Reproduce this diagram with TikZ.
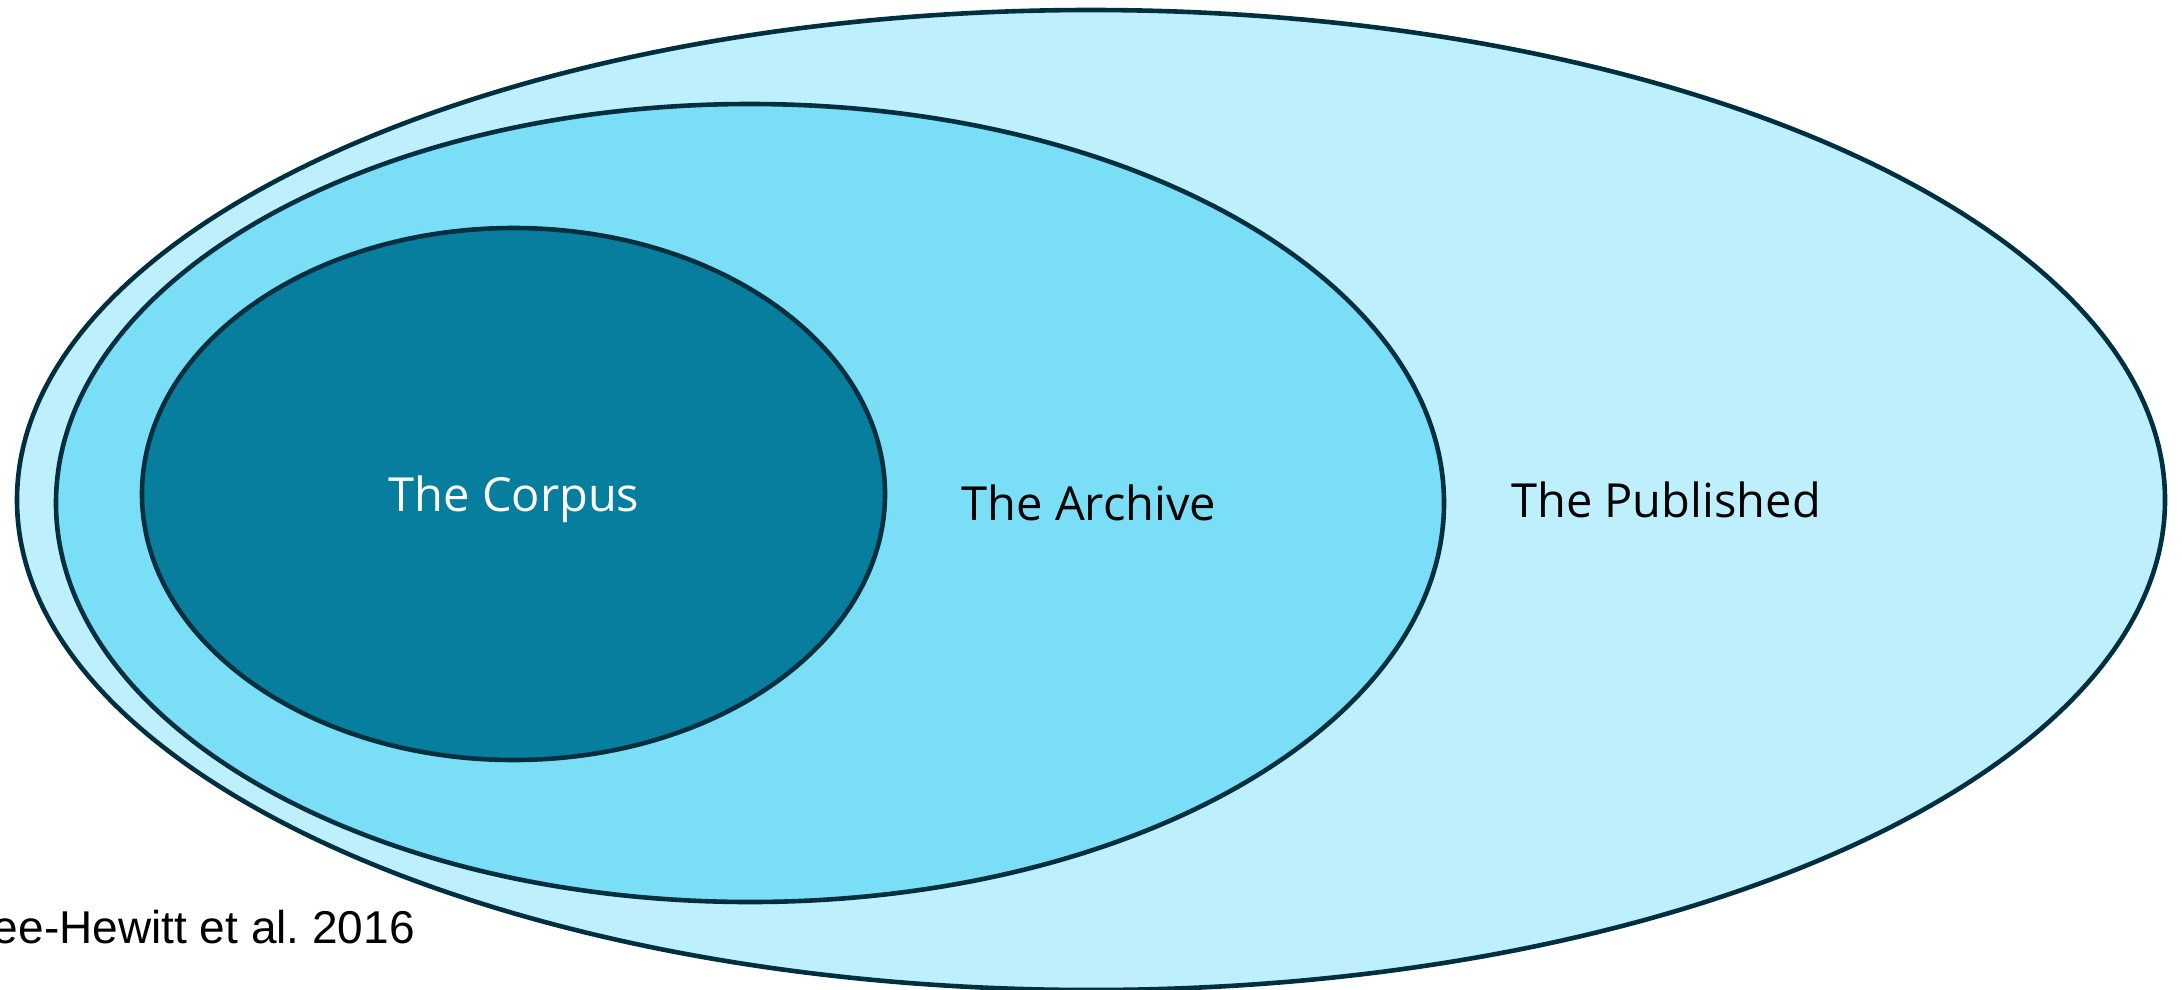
\documentclass[tikz,border=0pt]{standalone}
\usepackage{fontspec}
\setmainfont{Open Sans}
\newfontfamily\citefont{Liberation Sans}
\frenchspacing
\definecolor{ringline}{HTML}{003040}
\definecolor{publishedfill}{HTML}{BEEFFC}
\definecolor{archivefill}{HTML}{7ADEF7}
\definecolor{corpusfill}{HTML}{087E9E}
\begin{document}
\begin{tikzpicture}[x=1pt,y=-1pt,
  ring/.style={draw=ringline,line width=4.6pt},
  label/.style={inner sep=0pt,anchor=base,font=\fontsize{47}{56}\selectfont}]
\useasboundingbox (0,0) rectangle (2182,989);
% nested sets
\draw[ring,fill=publishedfill] (1091,500) ellipse [x radius=1074,y radius=490];
\draw[ring,fill=archivefill] (750,503) ellipse [x radius=694,y radius=399];
\draw[ring,fill=corpusfill] (513.5,494) ellipse [x radius=371.5,y radius=266];
% set names
\node[label,text=white] (corpus) at (514,511) {The Corpus};
\node[label] (archive) at (1089,520) {The Archive};
\node[label] (published) at (1666,517) {The Published};
% source
\node[inner sep=0pt,anchor=base east,font=\citefont\fontsize{46}{55}\selectfont] (source) at (415,943) {ee-Hewitt et al. 2016};
\end{tikzpicture}
\end{document}
